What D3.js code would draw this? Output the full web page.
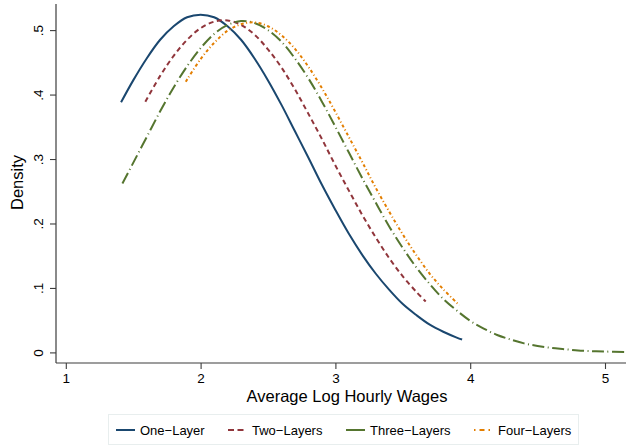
<!DOCTYPE html>
<html>
<head>
<meta charset="utf-8">
<script src="https://cdn.jsdelivr.net/npm/d3@7"></script>
<style>
  html, body { margin: 0; padding: 0; background: #fff; }
  svg { display: block; font-family: "Liberation Sans", Arial, sans-serif; }
</style>
</head>
<body>
<svg id="chart" width="628" height="446"></svg>
<script>
// Kernel density estimates of average log hourly wages, by number of layers
const oneLayerX = [1.41, 1.5, 1.6, 1.7, 1.8, 1.9, 2.0, 2.1, 2.2, 2.3, 2.4, 2.5, 2.6, 2.7, 2.8, 2.9, 3.0, 3.1, 3.2, 3.3, 3.4, 3.5, 3.6, 3.7, 3.8, 3.9, 3.94];
const oneLayerY = [0.388, 0.422, 0.456, 0.485, 0.506, 0.520, 0.524, 0.520, 0.506, 0.485, 0.456, 0.422, 0.384, 0.343, 0.302, 0.260, 0.221, 0.184, 0.151, 0.122, 0.097, 0.075, 0.058, 0.043, 0.032, 0.023, 0.020];

const twoLayersX = [1.59, 1.7, 1.8, 1.9, 2.0, 2.1, 2.2, 2.3, 2.4, 2.5, 2.6, 2.7, 2.8, 2.9, 3.0, 3.1, 3.2, 3.3, 3.4, 3.5, 3.6, 3.67];
const twoLayersY = [0.389, 0.429, 0.460, 0.485, 0.503, 0.513, 0.515, 0.508, 0.493, 0.470, 0.442, 0.408, 0.370, 0.331, 0.290, 0.251, 0.213, 0.178, 0.146, 0.118, 0.094, 0.079];

const threeLayersX = [1.42, 1.5, 1.6, 1.7, 1.8, 1.9, 2.0, 2.1, 2.2, 2.3, 2.4, 2.5, 2.6, 2.7, 2.8, 2.9, 3.0, 3.1, 3.2, 3.3, 3.4, 3.5, 3.6, 3.7, 3.8, 3.9, 4.0, 4.1, 4.2, 4.3, 4.4, 4.5, 4.6, 4.7, 4.8, 4.9, 5.0, 5.15];
const threeLayersY = [0.262, 0.294, 0.334, 0.374, 0.411, 0.444, 0.472, 0.494, 0.508, 0.514, 0.511, 0.500, 0.482, 0.456, 0.425, 0.389, 0.350, 0.310, 0.270, 0.232, 0.195, 0.162, 0.132, 0.106, 0.083, 0.065, 0.049, 0.037, 0.027, 0.020, 0.014, 0.010, 0.007, 0.005, 0.003, 0.002, 0.0013, 0.0007];

const fourLayersX = [1.89, 2.0, 2.1, 2.2, 2.3, 2.4, 2.5, 2.6, 2.7, 2.8, 2.9, 3.0, 3.1, 3.2, 3.3, 3.4, 3.5, 3.6, 3.7, 3.8, 3.92];
const fourLayersY = [0.420, 0.455, 0.480, 0.499, 0.509, 0.512, 0.506, 0.492, 0.471, 0.443, 0.410, 0.373, 0.334, 0.295, 0.255, 0.218, 0.183, 0.151, 0.122, 0.098, 0.073];

const seriesNames = ["One\u2212Layer", "Two\u2212Layers", "Three\u2212Layers", "Four\u2212Layers"];

const xTicks = [1, 2, 3, 4, 5];
const xTickLabels = ["1", "2", "3", "4", "5"];
const yTicks = [0, 0.1, 0.2, 0.3, 0.4, 0.5];
const yTickLabels = ["0", ".1", ".2", ".3", ".4", ".5"];

const xTitle = "Average Log Hourly Wages";
const yTitle = "Density";

// Line styles per series (Stata s2color palette); legend keys use their own dash phase
const styles = [
  { color: "#1a476f", dash: null,           keyDash: null,              width: 2.0 },
  { color: "#90353b", dash: "5,3.5",        keyDash: "6,3.5",           width: 2.0 },
  { color: "#55752f", dash: "12,3.5,1,3.5", keyDash: null,              width: 2.0 },
  { color: "#e37e00", dash: "3,2.5,1,2.5",  keyDash: "1.5,4,5,4,1.5,3", width: 2.0 }
];

const series = [
  { name: seriesNames[0], xs: oneLayerX,    ys: oneLayerY },
  { name: seriesNames[1], xs: twoLayersX,   ys: twoLayersY },
  { name: seriesNames[2], xs: threeLayersX, ys: threeLayersY },
  { name: seriesNames[3], xs: fourLayersX,  ys: fourLayersY }
].map((s, i) => ({ ...s, style: styles[i], points: s.xs.map((x, j) => [x, s.ys[j]]) }));

const svg = d3.select("#chart");

const x = d3.scaleLinear().domain([1, 5]).range([65.8, 605]);
const y = d3.scaleLinear().domain([0, 0.5]).range([352.4, 30.1]);

const axisColor = "#3c3c3c";
const plotLeft = 56, plotRight = 626, plotTop = 4, plotBottom = 363;

// Axis lines
svg.append("line")
  .attr("x1", plotLeft).attr("x2", plotLeft)
  .attr("y1", plotTop).attr("y2", plotBottom)
  .attr("stroke", axisColor).attr("stroke-width", 1.2);
svg.append("line")
  .attr("x1", plotLeft).attr("x2", plotRight)
  .attr("y1", plotBottom).attr("y2", plotBottom)
  .attr("stroke", axisColor).attr("stroke-width", 1.2);

// Y axis ticks and rotated labels
const yAxis = d3.axisLeft(y)
  .tickValues(yTicks)
  .tickFormat((d, i) => yTickLabels[i])
  .tickSize(6)
  .tickSizeOuter(0);
const gy = svg.append("g").attr("transform", `translate(${plotLeft},0)`).call(yAxis);
gy.select(".domain").remove();
gy.selectAll(".tick line").attr("stroke", axisColor).attr("stroke-width", 1.1);
gy.selectAll(".tick text")
  .attr("x", null).attr("dy", null)
  .attr("transform", "translate(-13,0) rotate(-90)")
  .attr("text-anchor", "middle")
  .attr("fill", "#000")
  .style("font-size", "13.5px")
  .style("font-family", "'Liberation Sans', Arial, sans-serif");

// X axis ticks and labels
const xAxis = d3.axisBottom(x)
  .tickValues(xTicks)
  .tickFormat((d, i) => xTickLabels[i])
  .tickSize(6)
  .tickSizeOuter(0);
const gx = svg.append("g").attr("transform", `translate(0,${plotBottom})`).call(xAxis);
gx.select(".domain").remove();
gx.selectAll(".tick line").attr("stroke", axisColor).attr("stroke-width", 1.1);
gx.selectAll(".tick text")
  .attr("y", 20).attr("dy", null)
  .attr("fill", "#000")
  .style("font-size", "13.5px")
  .style("font-family", "'Liberation Sans', Arial, sans-serif");

// Axis titles
svg.append("text")
  .attr("x", 347).attr("y", 402)
  .attr("text-anchor", "middle")
  .style("font-size", "16.5px")
  .text(xTitle);
svg.append("text")
  .attr("transform", "translate(23,182.5) rotate(-90)")
  .attr("text-anchor", "middle")
  .style("font-size", "16.5px")
  .text(yTitle);

// Density curves
const line = d3.line()
  .x(d => x(d[0]))
  .y(d => y(d[1]))
  .curve(d3.curveCatmullRom.alpha(0.5));

svg.append("g").selectAll("path")
  .data(series)
  .join("path")
  .attr("d", d => line(d.points))
  .attr("fill", "none")
  .attr("stroke", d => d.style.color)
  .attr("stroke-width", d => d.style.width)
  .attr("stroke-dasharray", d => d.style.dash);

// Legend
const legend = svg.append("g");
legend.append("rect")
  .attr("x", 108.5).attr("y", 414.5)
  .attr("width", 470).attr("height", 30)
  .attr("fill", "#fff")
  .attr("stroke", "#e8eeee").attr("stroke-width", 1);

const legendX = [116, 228, 346, 474];
const legendY = 430;
const items = legend.selectAll("g.item")
  .data(series)
  .join("g")
  .attr("class", "item")
  .attr("transform", (d, i) => `translate(${legendX[i]},${legendY})`);
items.append("line")
  .attr("x1", 0).attr("x2", 19)
  .attr("y1", 0).attr("y2", 0)
  .attr("stroke", d => d.style.color)
  .attr("stroke-width", d => d.style.width)
  .attr("stroke-dasharray", d => d.style.keyDash);
items.append("text")
  .attr("x", 24).attr("y", 0).attr("dy", "0.35em")
  .style("font-size", "13px")
  .text(d => d.name);
</script>
</body>
</html>
